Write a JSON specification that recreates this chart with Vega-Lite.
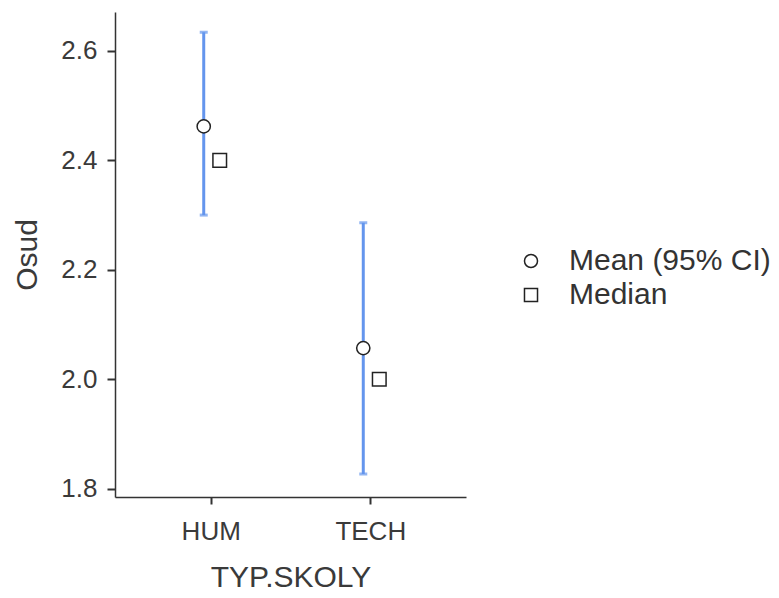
{
  "$schema": "https://vega.github.io/schema/vega-lite/v6.json",
  "autosize": {"type": "none"},
  "padding": {"left": 115, "top": 12, "right": 313, "bottom": 101},
  "width": 351,
  "height": 485,
  "background": "white",
  "config": {
    "view": {"stroke": null},
    "font": "Liberation Sans",
    "axis": {
      "grid": false,
      "domainColor": "#333333",
      "domainWidth": 1.5,
      "tickColor": "#333333",
      "tickWidth": 2,
      "tickSize": 8,
      "labelFont": "Liberation Sans",
      "labelFontSize": 26,
      "labelColor": "#3a3a3a",
      "titleFont": "Liberation Sans",
      "titleFontSize": 30,
      "titleFontWeight": "normal",
      "titleColor": "#3a3a3a"
    },
    "legend": {
      "labelFont": "Liberation Sans",
      "labelFontSize": 30,
      "labelColor": "#333333",
      "labelLimit": 400
    }
  },
  "data": {
    "values": [
      {"group": "HUM", "stat": "Mean (95% CI)", "value": 2.462, "lower": 2.300, "upper": 2.634},
      {"group": "TECH", "stat": "Mean (95% CI)", "value": 2.057, "lower": 1.827, "upper": 2.286},
      {"group": "HUM", "stat": "Median", "value": 2.4},
      {"group": "TECH", "stat": "Median", "value": 2.0}
    ]
  },
  "encoding": {
    "x": {
      "field": "group",
      "type": "nominal",
      "scale": {"type": "point", "padding": 0.6},
      "axis": {"title": "TYP.SKOLY", "labelAngle": 0, "labelPadding": 14, "titlePadding": 18, "tickSize": 7}
    }
  },
  "layer": [
    {
      "transform": [{"filter": "datum.stat === 'Mean (95% CI)'"}],
      "mark": {"type": "rule", "color": "#6495ED", "strokeWidth": 3, "xOffset": -7},
      "encoding": {
        "y": {
          "field": "lower",
          "type": "quantitative",
          "scale": {"domain": [1.785, 2.671], "nice": false, "zero": false},
          "axis": {"title": "Osud", "values": [1.8, 2.0, 2.2, 2.4, 2.6], "format": ".1f", "labelPadding": 10, "titlePadding": 18}
        },
        "y2": {"field": "upper"}
      }
    },
    {
      "transform": [{"filter": "datum.stat === 'Mean (95% CI)'"}],
      "mark": {"type": "tick", "color": "#6495ED", "size": 8, "thickness": 3, "xOffset": -7, "orient": "horizontal"},
      "encoding": {"y": {"field": "lower", "type": "quantitative"}}
    },
    {
      "transform": [{"filter": "datum.stat === 'Mean (95% CI)'"}],
      "mark": {"type": "tick", "color": "#6495ED", "size": 8, "thickness": 3, "xOffset": -7, "orient": "horizontal"},
      "encoding": {"y": {"field": "upper", "type": "quantitative"}}
    },
    {
      "transform": [{"filter": "datum.stat === 'Mean (95% CI)'"}],
      "mark": {"type": "point", "shape": "circle", "filled": true, "color": "white", "opacity": 1, "size": 175, "xOffset": -7},
      "encoding": {"y": {"field": "value", "type": "quantitative"}}
    },
    {
      "transform": [{"filter": "datum.stat === 'Median'"}],
      "mark": {"type": "point", "shape": "square", "filled": true, "color": "white", "opacity": 1, "size": 185, "xOffset": 9},
      "encoding": {"y": {"field": "value", "type": "quantitative"}}
    },
    {
      "transform": [{"filter": "datum.stat === 'Mean (95% CI)'"}],
      "mark": {"type": "point", "filled": false, "color": "#222222", "strokeWidth": 1.5, "size": 175, "opacity": 1, "xOffset": -7},
      "encoding": {
        "y": {"field": "value", "type": "quantitative"},
        "shape": {
          "field": "stat",
          "type": "nominal",
          "scale": {"domain": ["Mean (95% CI)", "Median"], "range": ["circle", "square"]},
          "legend": {
            "title": null,
            "orient": "none",
            "legendX": 401,
            "legendY": 234,
            "symbolSize": 170,
            "symbolStrokeWidth": 1.5,
            "labelOffset": 23,
            "rowPadding": 4,
            "labelLimit": 400
          }
        }
      }
    },
    {
      "transform": [{"filter": "datum.stat === 'Median'"}],
      "mark": {"type": "point", "filled": false, "color": "#222222", "strokeWidth": 1.5, "size": 185, "opacity": 1, "xOffset": 9},
      "encoding": {
        "y": {"field": "value", "type": "quantitative"},
        "shape": {"field": "stat", "type": "nominal"}
      }
    }
  ]
}
